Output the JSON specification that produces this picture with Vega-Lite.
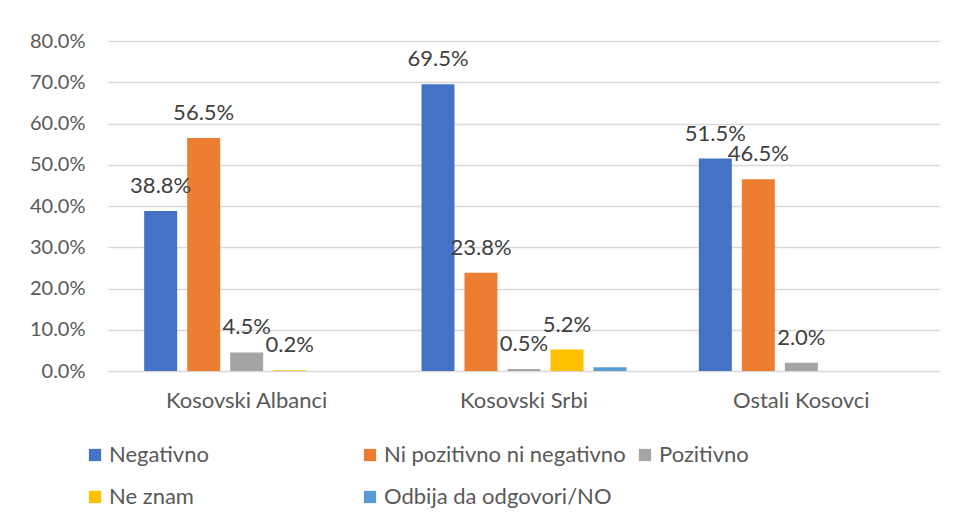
{
  "$schema": "https://vega.github.io/schema/vega-lite/v6.json",
  "width": 832,
  "height": 330,
  "autosize": {"type": "none"},
  "padding": {"left": 108, "top": 41, "right": 18, "bottom": 156},
  "background": "white",
  "config": {
    "font": "Lato",
    "view": {"stroke": null},
    "axis": {"labelFont": "Lato", "labelColor": "#595959", "labelFontSize": 20}
  },
  "data": {
    "values": [
      {"grupa": "Kosovski Albanci", "odgovor": "Negativno", "vrijednost": 38.8, "label": "38.8%"},
      {"grupa": "Kosovski Albanci", "odgovor": "Ni pozitivno ni negativno", "vrijednost": 56.5, "label": "56.5%"},
      {"grupa": "Kosovski Albanci", "odgovor": "Pozitivno", "vrijednost": 4.5, "label": "4.5%"},
      {"grupa": "Kosovski Albanci", "odgovor": "Ne znam", "vrijednost": 0.2, "label": "0.2%"},
      {"grupa": "Kosovski Albanci", "odgovor": "Odbija da odgovori/NO", "vrijednost": 0, "label": ""},
      {"grupa": "Kosovski Srbi", "odgovor": "Negativno", "vrijednost": 69.5, "label": "69.5%"},
      {"grupa": "Kosovski Srbi", "odgovor": "Ni pozitivno ni negativno", "vrijednost": 23.8, "label": "23.8%"},
      {"grupa": "Kosovski Srbi", "odgovor": "Pozitivno", "vrijednost": 0.5, "label": "0.5%"},
      {"grupa": "Kosovski Srbi", "odgovor": "Ne znam", "vrijednost": 5.2, "label": "5.2%"},
      {"grupa": "Kosovski Srbi", "odgovor": "Odbija da odgovori/NO", "vrijednost": 0.9, "label": ""},
      {"grupa": "Ostali Kosovci", "odgovor": "Negativno", "vrijednost": 51.5, "label": "51.5%"},
      {"grupa": "Ostali Kosovci", "odgovor": "Ni pozitivno ni negativno", "vrijednost": 46.5, "label": "46.5%"},
      {"grupa": "Ostali Kosovci", "odgovor": "Pozitivno", "vrijednost": 2.0, "label": "2.0%"},
      {"grupa": "Ostali Kosovci", "odgovor": "Ne znam", "vrijednost": 0, "label": ""},
      {"grupa": "Ostali Kosovci", "odgovor": "Odbija da odgovori/NO", "vrijednost": 0, "label": ""}
    ]
  },
  "encoding": {
    "x": {
      "field": "grupa", "type": "nominal",
      "sort": ["Kosovski Albanci", "Kosovski Srbi", "Ostali Kosovci"],
      "scale": {"paddingInner": 0, "paddingOuter": 0},
      "axis": {"title": null, "labelAngle": 0, "domain": false, "ticks": false, "labelPadding": 19, "labelFontSize": 22}
    },
    "xOffset": {
      "field": "odgovor", "type": "nominal",
      "sort": ["Negativno", "Ni pozitivno ni negativno", "Pozitivno", "Ne znam", "Odbija da odgovori/NO"],
      "scale": {"paddingInner": 0.233, "paddingOuter": 0.841}
    },
    "y": {
      "field": "vrijednost", "type": "quantitative",
      "scale": {"domain": [0, 80]},
      "axis": {
        "title": null, "values": [0, 10, 20, 30, 40, 50, 60, 70, 80],
        "labelExpr": "format(datum.value, '.1f') + '%'",
        "labelOverlap": false,
        "domain": false, "ticks": false, "labelPadding": 23,
        "grid": true, "gridColor": "#D9D9D9", "gridWidth": 1.5
      }
    }
  },
  "layer": [
    {
      "mark": {"type": "bar"},
      "encoding": {
        "color": {
          "field": "odgovor", "type": "nominal",
          "sort": ["Negativno", "Ni pozitivno ni negativno", "Pozitivno", "Ne znam", "Odbija da odgovori/NO"],
          "scale": {
            "domain": ["Negativno", "Ni pozitivno ni negativno", "Pozitivno", "Ne znam", "Odbija da odgovori/NO"],
            "range": ["#4472C4", "#ED7D31", "#A5A5A5", "#FFC000", "#5B9BD5"]
          },
          "legend": {
            "title": null, "orient": "none", "legendX": -24, "legendY": 403,
            "direction": "horizontal", "columns": 3, "gridAlign": "all",
            "columnPadding": 8, "rowPadding": 20, "padding": 0,
            "symbolType": "square", "symbolSize": 150, "symbolStrokeWidth": 0,
            "labelFont": "Lato", "labelFontSize": 22, "labelColor": "#595959",
            "labelOffset": 3, "labelLimit": 400
          }
        }
      }
    },
    {
      "mark": {"type": "text", "baseline": "middle", "dy": -25, "fontSize": 22, "font": "Lato", "color": "#404040"},
      "encoding": {"text": {"field": "label"}}
    }
  ]
}
